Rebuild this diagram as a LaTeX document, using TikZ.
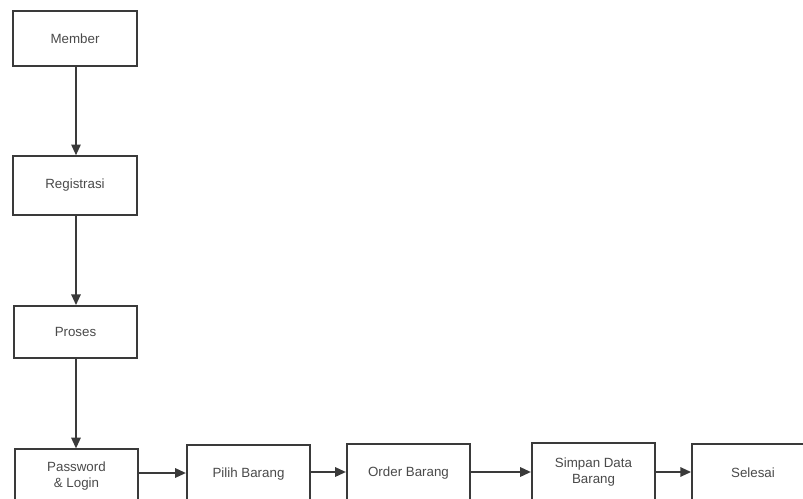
\documentclass[tikz,border=0pt]{standalone}
\usepackage{fontspec}
\setmainfont{Liberation Sans}
\usetikzlibrary{arrows.meta}
\definecolor{ink}{HTML}{3A3A3A}
\definecolor{txt}{HTML}{4A4A4A}
\begin{document}
\begin{tikzpicture}[x=0.75pt,y=-0.75pt,
  stepbox/.style={draw=ink,line width=1.4pt,rectangle,minimum width=92.5pt,
    align=center,font=\fontsize{10}{12}\selectfont,text=txt,inner sep=2pt},
  flow/.style={draw=ink,line width=1.3pt,-{Triangle[length=8pt,width=7pt]}}]
\useasboundingbox (0,0) rectangle (803,499);
\clip (0,0) rectangle (803,499);
\fill[white] (0,0) rectangle (803,499);
% vertical chain
\node[stepbox,minimum height=41pt] (member) at (75,38.5) {Member};
\node[stepbox,minimum height=44pt] (reg) at (75,185.5) {Registrasi};
\node[stepbox,minimum height=39pt] (proses) at (75.5,332) {Proses};
\node[stepbox,minimum height=40pt] (login) at (76.5,476) {Password\\\& Login};
% horizontal chain
\node[stepbox,minimum height=44pt] (pilih) at (248.5,474) {Pilih Barang};
\node[stepbox,minimum height=44pt] (order) at (408.5,473) {Order Barang};
\node[stepbox,minimum height=44pt] (simpan) at (593.5,472) {Simpan Data\\Barang};
\node[stepbox,minimum height=44pt,minimum width=91.5pt] (selesai) at (753,473) {Selesai};
% connectors
\draw[flow] (member.south -| 76,0) -- (reg.north -| 76,0);
\draw[flow] (reg.south -| 76,0) -- (proses.north -| 76,0);
\draw[flow] (proses.south -| 76,0) -- (login.north -| 76,0);
\draw[flow] (login.east |- 0,473) -- (pilih.west |- 0,473);
\draw[flow] (pilih.east |- 0,472) -- (order.west |- 0,472);
\draw[flow] (order.east |- 0,472) -- (simpan.west |- 0,472);
\draw[flow] (simpan.east |- 0,472) -- (selesai.west |- 0,472);
\end{tikzpicture}
\end{document}
